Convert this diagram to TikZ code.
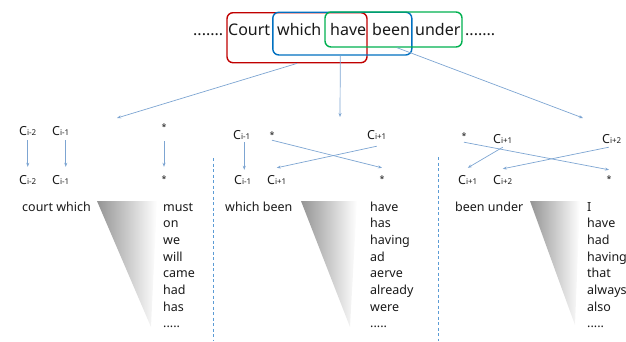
\documentclass[tikz,border=0pt]{standalone}
\usepackage{fontspec}
\setmainfont{Noto Sans}
\usetikzlibrary{arrows.meta,calc}
\definecolor{boxred}{RGB}{192,0,0}
\definecolor{boxblue}{RGB}{0,112,192}
\definecolor{boxgreen}{RGB}{0,176,80}
\definecolor{arrblue}{RGB}{125,165,210}
\definecolor{dashblue}{RGB}{91,155,213}
\definecolor{txt}{RGB}{25,25,25}
\newcommand\Csub[1]{C{\fontsize{8}{8}\selectfont\raisebox{-0.5pt}{#1}}}
\newcommand\fivedots{.....}
\begin{document}
\begin{tikzpicture}[x=1pt,y=-1pt, font=\fontsize{12.5}{15}\selectfont, text=txt,
  wbox/.style={draw, rounded corners=6pt, line width=1.4pt, inner sep=0pt},
  topw/.style={anchor=base west, inner sep=0pt, font=\fontsize{16}{19}\selectfont},
  lbl/.style={anchor=base west, inner sep=0pt, text height=9pt, text depth=1pt},
  starl/.style={anchor=base, inner sep=0pt, text height=9pt, text depth=1pt, font=\fontsize{9}{9}\selectfont},
  conn/.style={draw=arrblue, line width=0.7pt, -{Stealth[length=4pt,width=3pt]}},
  sepline/.style={draw=dashblue, line width=0.8pt, dash pattern=on 3pt off 2.5pt},
  word/.style={anchor=base west, inner sep=0pt},
  wedge/.style={left color=black!42, right color=white}]
\path[use as bounding box] (0,0) rectangle (626,341);

% ---- top sentence ----
\node[topw] (dl) at (193,35) {.......};
\node[topw] (wcourt) at (228,35) {Court};
\node[topw] (wwhich) at (277,35) {which};
\node[topw] (whave) at (330,35) {have};
\node[topw] (wbeen) at (372,35) {been};
\node[topw] (wunder) at (415,35) {under};
\node[topw] (dr) at (465,35) {.......};

\node[wbox, draw=boxred, minimum width=140pt, minimum height=50pt] (rbox) at (297,37.7) {};
\node[wbox, draw=boxblue, minimum width=139pt, minimum height=42.7pt] (bbox) at (342.3,33.6) {};
\node[wbox, draw=boxgreen, minimum width=137pt, minimum height=35pt] (gbox) at (393.5,29.5) {};

\coordinate (tL) at (117,118);
\coordinate (tM) at (340,117);
\coordinate (tR) at (583,118);
\draw[conn] (rbox.south) -- (tL);
\draw[conn] ([xshift=-2pt]bbox.south) -- (tM);
\draw[conn] ([xshift=3.5pt]gbox.south) -- (tR);

% ---- separators ----
\coordinate (s1t) at (213,158); \coordinate (s1b) at (213,341);
\coordinate (s2t) at (438,157); \coordinate (s2b) at (438,341);
\draw[sepline] (s1t) -- (s1b);
\draw[sepline] (s2t) -- (s2b);

% ---- column 1 ----
\node[lbl] (c1a) at (19,135) {\Csub{i-2}};
\node[lbl] (c1b) at (52,135) {\Csub{i-1}};
\node[starl] (s1u) at (164,130) {*};
\node[lbl] (d1a) at (19,184) {\Csub{i-2}};
\node[lbl] (d1b) at (52,184) {\Csub{i-1}};
\node[starl] (s1l) at (164,182) {*};
\draw[conn, shorten <=4pt, shorten >=8pt] (c1a.south) -- (c1a.south |- d1a.north);
\draw[conn, shorten <=4pt, shorten >=8pt] ([xshift=5pt]c1b.south) -- ([xshift=5pt]c1b.south |- d1b.north);
\draw[conn, shorten <=10pt, shorten >=6pt] (s1u.south) -- (s1l.north);

% ---- column 2 ----
\node[lbl] (c2a) at (233,139) {\Csub{i-1}};
\node[starl] (s2u) at (272,138) {*};
\node[lbl] (c2b) at (367,139) {\Csub{i+1}};
\node[lbl] (d2a) at (234,184) {\Csub{i-1}};
\node[lbl] (d2b) at (267,184) {\Csub{i+1}};
\node[starl] (s2l) at (382,182) {*};
\draw[conn, shorten <=2pt, shorten >=5pt] ([xshift=2.5pt]c2a.south) -- ([xshift=2.5pt]c2a.south |- d2a.north);
\draw[conn] ([yshift=-1pt]s2u.south) -- ([yshift=5pt]s2l.north);
\draw[conn] ([yshift=-6pt]c2b.south) -- ([yshift=7pt]d2b.north);

% ---- column 3 ----
\node[starl] (s3u) at (464,139) {*};
\node[lbl] (c3a) at (493,143) {\Csub{i+1}};
\node[lbl] (c3b) at (602,143) {\Csub{i+2}};
\node[lbl] (d3a) at (458,184) {\Csub{i+1}};
\node[lbl] (d3b) at (493,184) {\Csub{i+2}};
\node[starl] (s3l) at (609,182) {*};
\draw[conn] ([yshift=-2pt]s3u.south) -- ([yshift=3pt]s3l.north);
\draw[conn] ([yshift=-3pt]c3a.south) -- ([yshift=7pt]d3a.north);
\draw[conn] ([xshift=-3pt,yshift=-3pt]c3b.south) -- ([yshift=6pt]d3b.north);

% ---- context words ----
\node[word] (p1) at (22,211) {court which};
\node[word] (p2) at (225,211) {which been};
\node[word] (p3) at (455,211) {been under};

% ---- wedges ----
\shade[wedge] (97,201) -- (157,201) -- (151,327) -- cycle;
\shade[wedge] (301,201) -- (357,201) -- (350,327) -- cycle;
\shade[wedge] (530,201) -- (580,201) -- (575,325) -- cycle;

% ---- candidate lists ----
\foreach \w [count=\i from 0] in {must,on,we,will,came,had,has,\fivedots}
  \node[word] (wa\i) at (163,{211+16.7*\i}) {\w};
\foreach \w [count=\i from 0] in {have,has,having,ad,aerve,already,were,\fivedots}
  \node[word] (wb\i) at (370,{211+16.7*\i}) {\w};
\foreach \w [count=\i from 0] in {I,have,had,having,that,always,also,\fivedots}
  \node[word] (wc\i) at (587,{211+16.7*\i}) {\w};
\end{tikzpicture}
\end{document}
